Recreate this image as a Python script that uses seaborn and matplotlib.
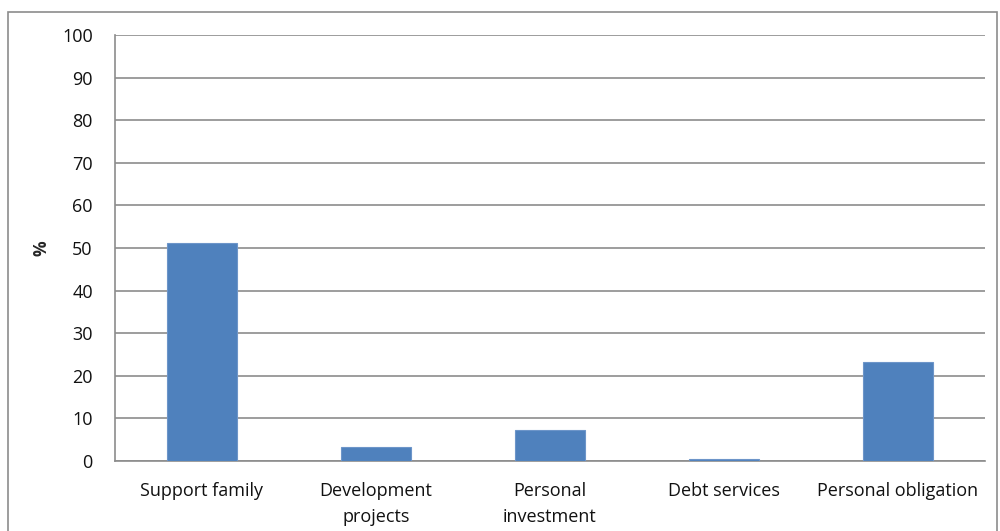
import matplotlib
matplotlib.use("Agg")
import matplotlib.pyplot as plt
import seaborn as sns
import pandas as pd
from matplotlib.patches import Rectangle

categories = ["Support family", "Development\nprojects", "Personal\ninvestment",
              "Debt services", "Personal obligation"]
values = [51.1, 3.4, 7.2, 0.5, 23.3]
y_ticks = [0, 10, 20, 30, 40, 50, 60, 70, 80, 90, 100]

df = pd.DataFrame({"use": categories, "pct": values})

sns.set_theme(style="white")
plt.rcParams["font.family"] = ["Open Sans", "DejaVu Sans"]

fig = plt.figure(figsize=(10, 5.31), dpi=100)
ax = fig.add_axes([0.115, 0.1318, 0.87, 0.8022])

grid_col = "#8c8c8c"
sns.barplot(data=df, x="use", y="pct", color="#4F81BD", width=0.4,
            saturation=1, ax=ax, zorder=3, edgecolor="#6d95c9", linewidth=0.8)

ax.set_ylim(0, 100)
ax.set_xlim(-0.5, len(categories) - 0.5)
ax.set_yticks(y_ticks)
ax.yaxis.grid(True, color=grid_col, linewidth=1.2, zorder=0)
ax.set_axisbelow(True)

# category labels centred, tick marks on category boundaries
ax.set_xticks(range(len(categories)))
ax.set_xticklabels(categories, fontsize=13, color="#111111", linespacing=1.6)
ax.set_xticks([i - 0.5 for i in range(len(categories) + 1)], minor=True)
ax.tick_params(axis="x", which="major", length=0, pad=15)
ax.tick_params(axis="x", which="minor", length=6, width=1.2, color=grid_col, direction="out")
ax.tick_params(axis="y", length=6, width=1.2, color=grid_col, direction="out",
               labelsize=13, labelcolor="#111111", pad=10)

ax.set_xlabel("")
ax.set_ylabel("%", fontsize=12.5, fontweight="bold", labelpad=8)

for side in ["top", "right"]:
    ax.spines[side].set_visible(False)
for side in ["left", "bottom"]:
    ax.spines[side].set_color(grid_col)
    ax.spines[side].set_linewidth(1.2)

# outer chart frame
fig.patches.append(Rectangle((0.008, -0.05), 0.989, 1.027, transform=fig.transFigure,
                             fill=False, edgecolor="#8c8c8c", linewidth=1.2))

fig.savefig("out.png", dpi=100)
